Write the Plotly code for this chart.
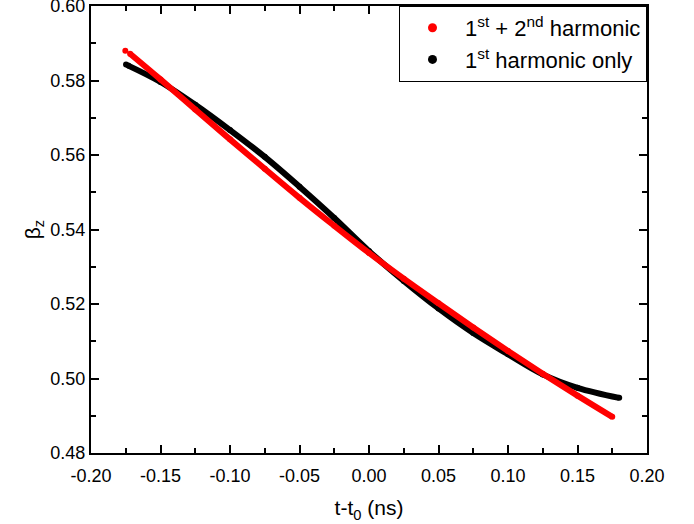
import plotly.graph_objects as go

# Longitudinal velocity beta_z across the bunch, t - t0 in ns
t_two = [-0.1753, -0.1719, -0.150, -0.125, -0.100, -0.075, -0.050, -0.025,
         0.000, 0.025, 0.050, 0.075, 0.100, 0.125, 0.150, 0.175]
beta_two = [0.5880, 0.5872, 0.5803, 0.5722, 0.5642, 0.5563, 0.5485, 0.5410,
            0.5337, 0.5268, 0.5202, 0.5137, 0.5074, 0.5013, 0.4954, 0.4897]

t_one = [-0.1748, -0.1732, -0.150, -0.125, -0.100, -0.075, -0.050, -0.025,
         0.000, 0.025, 0.050, 0.075, 0.100, 0.125, 0.150, 0.180]
beta_one = [0.5843, 0.5840, 0.5796, 0.5735, 0.5667, 0.5595, 0.5515, 0.5431,
            0.5342, 0.5262, 0.5188, 0.5122, 0.5065, 0.5011, 0.4975, 0.4948]

name_two = "1<sup>st</sup> + 2<sup>nd</sup> harmonic"
name_one = "1<sup>st</sup> harmonic only"

x_ticks = [-0.20, -0.15, -0.10, -0.05, 0.00, 0.05, 0.10, 0.15, 0.20]
x_labels = ["-0.20", "-0.15", "-0.10", "-0.05", "0.00", "0.05", "0.10", "0.15", "0.20"]
y_ticks = [0.48, 0.50, 0.52, 0.54, 0.56, 0.58, 0.60]
y_labels = ["0.48", "0.50", "0.52", "0.54", "0.56", "0.58", "0.60"]

FONT = "Arial, Liberation Sans, sans-serif"
RED = "#ff0000"
BLACK = "#000000"
W = 6

fig = go.Figure()

# black curve first, red drawn above it; the first sample sits as a lone dot
for t, b, col in [(t_one, beta_one, BLACK), (t_two, beta_two, RED)]:
    fig.add_trace(go.Scatter(x=t[1:], y=b[1:], mode="lines",
                             line=dict(color=col, width=W, shape="spline"),
                             showlegend=False, hoverinfo="skip"))
    fig.add_trace(go.Scatter(x=t, y=b, mode="markers",
                             marker=dict(color=col, size=W),
                             showlegend=False))

# legend entries
for nm, col in [(name_two, RED), (name_one, BLACK)]:
    fig.add_trace(go.Scatter(x=[None], y=[None], mode="markers", name=nm,
                             marker=dict(color=col, size=9)))

axis_common = dict(
    showline=True, linecolor="black", linewidth=2, mirror="allticks",
    ticks="inside", ticklen=8, tickwidth=1.5, tickcolor="black",
    showgrid=False, zeroline=False, ticklabeloverflow="allow",
    automargin=False,
    tickfont=dict(family=FONT, size=18, color="black"),
)

fig.update_xaxes(
    range=[-0.20, 0.20], tickvals=x_ticks, ticktext=x_labels,
    ticklabelstandoff=5,
    minor=dict(ticks="inside", ticklen=5, tickwidth=1.5, tickcolor="black",
               dtick=0.025, tick0=-0.2, showgrid=False),
    title=dict(text="t-t<sub>0</sub> (ns)", font=dict(family=FONT, size=21, color="black"),
               standoff=16),
    **axis_common)
fig.update_yaxes(
    range=[0.48, 0.60], tickvals=y_ticks, ticktext=y_labels,
    minor=dict(ticks="inside", ticklen=5, tickwidth=1.5, tickcolor="black",
               dtick=0.01, tick0=0.48, showgrid=False),
    title=dict(text="β<sub>z</sub>", font=dict(family=FONT, size=21, color="black"),
               standoff=4),
    **axis_common)

fig.update_layout(
    width=694, height=524,
    margin=dict(l=91, r=47, t=6, b=71),
    plot_bgcolor="white", paper_bgcolor="white",
    font=dict(family=FONT, color="black"),
    legend=dict(x=1, y=1, xanchor="right", yanchor="top",
                bordercolor="black", borderwidth=1, bgcolor="white",
                font=dict(family=FONT, size=22, color="black"),
                tracegroupgap=0, itemwidth=55),
)

fig.write_html("out.html")
